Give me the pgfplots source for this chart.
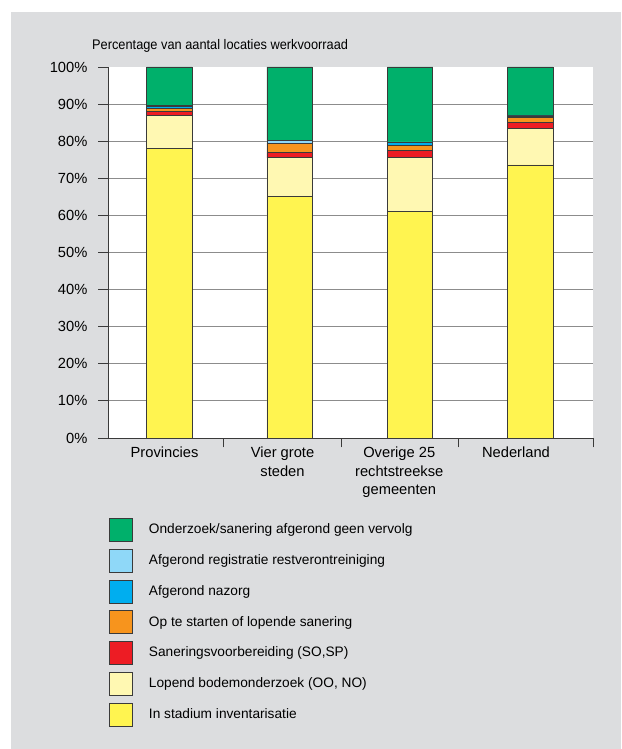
\documentclass[border=0pt]{standalone}
\usepackage{fontspec}
\setmainfont{Liberation Sans}
\newfontfamily\titlefont{Liberation Sans}[FakeStretch=0.92]
\usepackage{pgfplots}
\usepackage{pgfplotstable}
\pgfplotsset{compat=1.18}

\definecolor{bg}{HTML}{DCDDDF}
\definecolor{edge}{HTML}{3A3A3A}
\definecolor{gridc}{HTML}{8C8C8C}
\definecolor{cgrn}{HTML}{00B06B}
\definecolor{creg}{HTML}{8FD8F8}
\definecolor{cnaz}{HTML}{00AEEF}
\definecolor{cora}{HTML}{F7941D}
\definecolor{cred}{HTML}{ED1C24}
\definecolor{clyel}{HTML}{FFF8B2}
\definecolor{cyel}{HTML}{FFF450}

% percentage of locations per stage, x = category index
\pgfplotstableread{
x yel  lyel red ora naz reg grn
0 78.0 9.0  0.9 0.9 0.6 0.3 10.3
1 65.0 10.5 1.5 2.4 0.1 0.7 19.8
2 61.0 14.6 1.9 1.4 0.7 0.2 20.2
3 73.6 9.9  1.6 1.3 0.4 0.1 13.1
}\werkvoorraad

\pgfplotsset{
  legbox/.style={legend image code/.code={
    \draw[##1, draw=edge, line width=0.8pt] (0pt,-11.5pt) rectangle (23pt,11.5pt);}},
}

\begin{document}
\fontsize{14.7}{18.5}\selectfont
\begin{tikzpicture}[x=1pt,y=1pt]
\fill[white] (0,0) rectangle (621,749);
\fill[bg] (11,0) rectangle (621,737);
\node[anchor=west, inner sep=0pt, font=\titlefont\fontsize{13.9}{16}\selectfont] at (92,703) {Percentage van aantal locaties werkvoorraad};
\begin{axis}[
  at={(108pt,311pt)}, anchor=south west,
  scale only axis, width=485pt, height=371pt,
  axis background/.style={fill=white},
  ybar stacked, bar width=45.5pt,
  xmin=-0.51, xmax=3.52, ymin=0, ymax=100,
  axis x line*=bottom, axis y line*=left,
  axis line style={draw=edge, line width=0.9pt},
  tick style={draw=edge, line width=0.9pt},
  tick align=outside, major tick length=9.5pt,
  ytick={0,10,...,90},
  yticklabels={0\%,10\%,20\%,30\%,40\%,50\%,60\%,70\%,80\%,90\%},
  y tick label style={xshift=-6pt},
  extra y ticks={100}, extra y tick labels={100\%},
  extra y tick style={grid=none},
  ymajorgrids, grid style={draw=gridc, line width=0.8pt},
  xtick={-0.52,0.453,1.426,2.398,3.52}, xticklabels={},
  extra x ticks={-0.04,0.94,1.91,2.88},
  extra x tick labels={Provincies,{Vier grote\\steden},{Overige 25\\rechtstreekse\\gemeenten},Nederland},
  extra x tick style={major tick length=0pt, tick label style={align=center, yshift=-4pt}},
  reverse legend, legend cell align=left,
  legend style={at={(axis description cs:0.002,-0.215)}, anchor=north west,
    draw=none, fill=none, inner sep=0pt, row sep=7pt, nodes={inner sep=0pt},
    font=\fontsize{13.7}{16}\selectfont,
    /tikz/every odd column/.append style={column sep=16pt}},
]
\addplot[fill=cyel, draw=edge, line width=0.8pt, legbox] table[x=x, y=yel] {\werkvoorraad};
\addplot[fill=clyel, draw=edge, line width=0.8pt, legbox] table[x=x, y=lyel] {\werkvoorraad};
\addplot[fill=cred, draw=edge, line width=0.8pt, legbox] table[x=x, y=red] {\werkvoorraad};
\addplot[fill=cora, draw=edge, line width=0.8pt, legbox] table[x=x, y=ora] {\werkvoorraad};
\addplot[fill=cnaz, draw=edge, line width=0.8pt, legbox] table[x=x, y=naz] {\werkvoorraad};
\addplot[fill=creg, draw=edge, line width=0.8pt, legbox] table[x=x, y=reg] {\werkvoorraad};
\addplot[fill=cgrn, draw=edge, line width=0.8pt, legbox] table[x=x, y=grn] {\werkvoorraad};
\legend{In stadium inventarisatie, {Lopend bodemonderzoek (OO, NO)}, {Saneringsvoorbereiding (SO,SP)}, Op te starten of lopende sanering, Afgerond nazorg, Afgerond registratie restverontreiniging, Onderzoek/sanering afgerond geen vervolg}
\end{axis}
\end{tikzpicture}
\end{document}
